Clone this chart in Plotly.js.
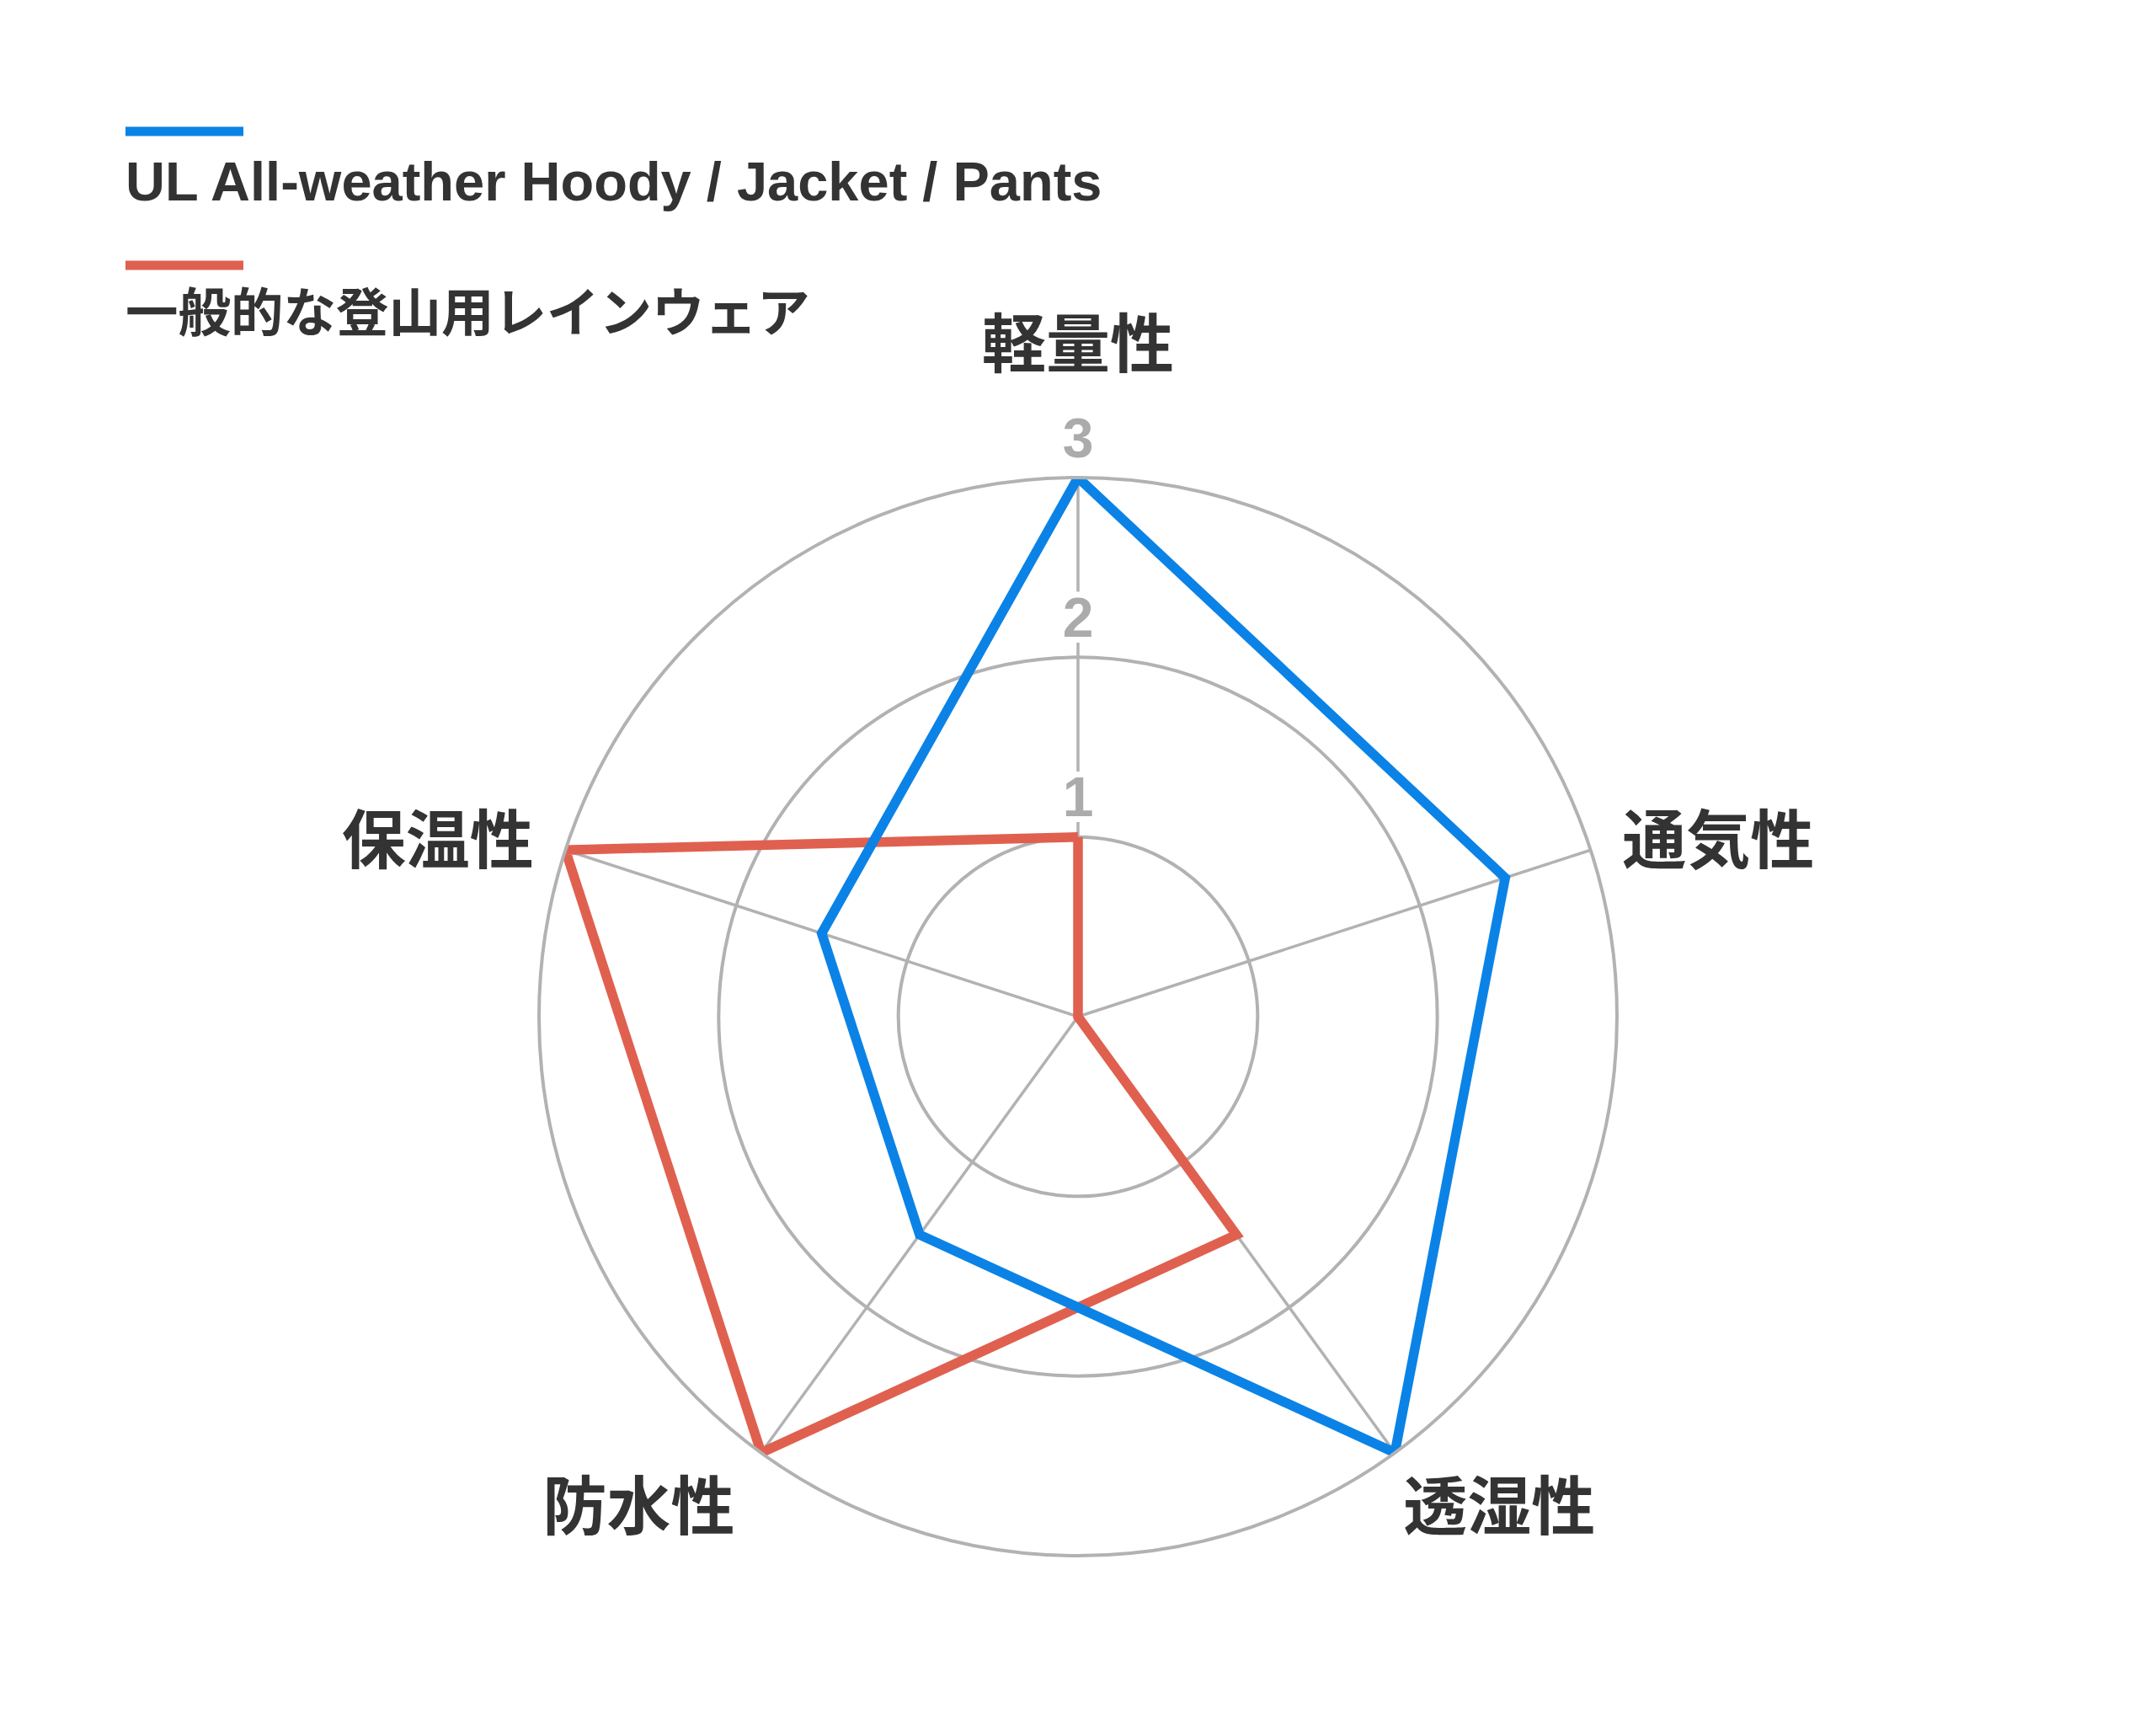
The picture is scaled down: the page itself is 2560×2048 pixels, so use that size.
<!DOCTYPE html>
<html>
<head>
<meta charset="utf-8">
<script src="https://cdn.plot.ly/plotly-3.0.1.min.js"></script>
<style>
  html, body { margin: 0; padding: 0; background: #ffffff; }
  #myChart { width: 2560px; height: 2048px; }
</style>
</head>
<body>
<div id="myChart"></div>
<script>
// chart values
const categories = ["軽量性", "通気性", "透湿性", "防水性", "保温性"];
const ulValues = [3, 2.5, 3, 1.5, 1.5];
const generalValues = [1, 0, 1.5, 3, 3];
const seriesNames = ["UL All-weather Hoody / Jacket / Pants", "一般的な登山用レインウェア"];
const seriesColors = ["#0b83e6", "#e0604f"];
const radialTicks = [1, 2, 3];

const fontFamily = "'Liberation Sans', 'Noto Sans CJK JP', sans-serif";
const gridColor = "#b2b2b2";
const NBSP = "\u00a0";

// close the polygon
function closed(arr) {
  return arr.concat([arr[0]]);
}

// nudge the angular labels a bit further out (the top one via an empty 2nd line)
const angularText = [
  categories[0] + "<br> ",
  NBSP + categories[1],
  categories[2],
  categories[3] + NBSP,
  categories[4] + NBSP
];

// white halo so the spoke stops around the tick numbers
const halo = "7px 0 0 #fff, -7px 0 0 #fff, 0 7px 0 #fff, 0 -7px 0 #fff, 5px 5px 0 #fff, -5px 5px 0 #fff, 5px -5px 0 #fff, -5px -5px 0 #fff";

const data = [
  {
    type: "scatterpolar",
    r: closed(generalValues),
    theta: closed(categories),
    mode: "lines",
    name: seriesNames[1],
    line: { color: seriesColors[1], width: 11.5 },
    hoverinfo: "skip"
  },
  {
    type: "scatterpolar",
    r: closed(ulValues),
    theta: closed(categories),
    mode: "lines",
    name: seriesNames[0],
    line: { color: seriesColors[0], width: 11.5 },
    hoverinfo: "skip"
  },
  // radial tick labels on the top spoke
  {
    type: "scatterpolar",
    r: radialTicks,
    theta: radialTicks.map(() => categories[0]),
    mode: "markers+text",
    marker: { size: 11, color: "rgba(0,0,0,0)" },
    text: radialTicks.map(String),
    textposition: "top center",
    textfont: { family: fontFamily, size: 66, color: "#ababab", weight: "bold", shadow: halo },
    cliponaxis: false,
    hoverinfo: "skip"
  }
];

// legend drawn by hand: colour bar above each name
const legendBarY = [156, 315];
const legendTextY = [215, 372];
const legendFontSize = [65, 62.5];
const shapes = seriesNames.map((n, i) => ({
  type: "line",
  xref: "paper", yref: "paper",
  x0: 149 / 2560, x1: 289 / 2560,
  y0: 1 - legendBarY[i] / 2048, y1: 1 - legendBarY[i] / 2048,
  line: { color: seriesColors[i], width: 11 }
}));
const annotations = seriesNames.map((n, i) => ({
  xref: "paper", yref: "paper",
  x: 147 / 2560, y: 1 - legendTextY[i] / 2048,
  xanchor: "left", yanchor: "middle",
  text: n,
  showarrow: false,
  font: { family: fontFamily, size: legendFontSize[i], color: "#333333", weight: "bold" }
}));

const layout = {
  width: 2560,
  height: 2048,
  margin: { l: 0, r: 0, t: 0, b: 0 },
  paper_bgcolor: "#ffffff",
  showlegend: false,
  shapes: shapes,
  annotations: annotations,
  polar: {
    domain: { x: [0.25, 0.75], y: [0.09814, 0.72314] },
    bgcolor: "#ffffff",
    gridshape: "circular",
    angularaxis: {
      rotation: 90,
      direction: "clockwise",
      tickmode: "array",
      tickvals: categories,
      ticktext: angularText,
      showline: true,
      linecolor: gridColor,
      linewidth: 4,
      showgrid: true,
      gridcolor: gridColor,
      gridwidth: 3.5,
      ticks: "outside",
      ticklen: 0,
      tickcolor: "rgba(0,0,0,0)",
      tickfont: { family: fontFamily, size: 76, color: "#333333", weight: "bold" }
    },
    radialaxis: {
      range: [0, 3],
      tickvals: radialTicks,
      showticklabels: false,
      ticks: "",
      showline: false,
      showgrid: true,
      gridcolor: gridColor,
      gridwidth: 4
    }
  }
};

const config = { staticPlot: true };

Plotly.newPlot("myChart", data, layout, config);
</script>
</body>
</html>
